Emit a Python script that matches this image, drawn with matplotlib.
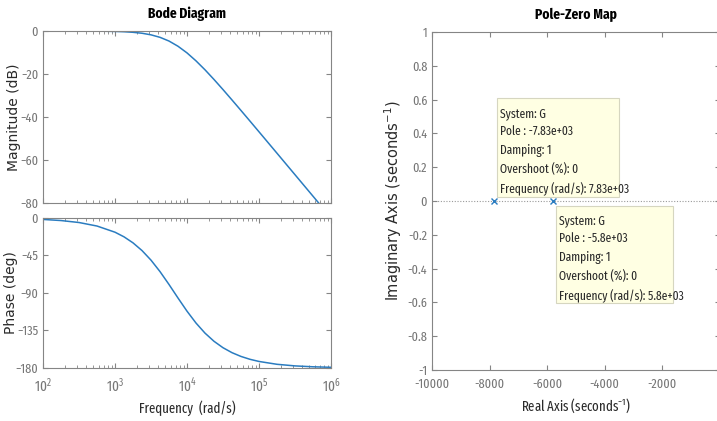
import matplotlib
matplotlib.use("Agg")
import matplotlib.pyplot as plt
from matplotlib.patches import Rectangle
from matplotlib.ticker import LogLocator, NullFormatter

# Bode samples (log10 of frequency in rad/s)
LOG_W = [2.0, 2.25, 2.5, 2.75, 3.0, 3.125, 3.25, 3.375, 3.5, 3.625, 3.75, 3.875,
         4.0, 4.125, 4.25, 4.375, 4.5, 4.625, 4.75, 4.875, 5.0, 5.25, 5.5, 5.75, 6.0]
MAG_DB = [-0.002, -0.006, -0.02, -0.063, -0.2, -0.35, -0.61, -1.05, -1.79, -2.95,
          -4.68, -7.1, -10.19, -13.9, -18.06, -22.56, -27.26, -32.09, -36.99,
          -41.93, -46.9, -56.87, -66.86, -76.86, -86.86]
PHASE_DEG = [-1.72, -3.06, -5.43, -9.65, -17.06, -22.61, -29.84, -39.09, -50.6,
             -64.33, -79.8, -96.04, -111.83, -126.08, -138.18, -147.98, -155.7,
             -161.65, -166.18, -169.62, -172.2, -175.61, -177.53, -178.61, -179.22]

# poles of G
POLE_RE = [-7830, -5800]
POLE_IM = [0, 0]
TIPS = [
    "System: G\nPole : -7.83e+03\nDamping: 1\nOvershoot (%): 0\nFrequency (rad/s): 7.83e+03",
    "System: G\nPole : -5.8e+03\nDamping: 1\nOvershoot (%): 0\nFrequency (rad/s): 5.8e+03",
]

NARROW = ["Fira Sans Extra Condensed", "Roboto Condensed", "Liberation Sans",
          "DejaVu Sans"]
WIDE = ["DejaVu Sans"]
LINE = "#2a7cc0"
GRAY = "#858585"
TXT = "#777777"
LAB = "#2a2a2a"

plt.rcParams["font.family"] = NARROW
plt.rcParams["mathtext.default"] = "regular"
plt.rcParams["font.size"] = 9

fig = plt.figure(figsize=(7.17, 4.21), dpi=100)
fig.patch.set_facecolor("white")


def style(ax):
    for s in ax.spines.values():
        s.set_color(GRAY)
        s.set_linewidth(0.8)
    ax.tick_params(which="both", direction="in", top=True, right=True,
                   colors=GRAY, labelcolor=TXT, labelsize=9.5)
    ax.tick_params(which="major", length=3.5)
    ax.tick_params(which="minor", length=2)


freq = [10 ** v for v in LOG_W]

ax_m = fig.add_axes([0.060, 0.518, 0.4016, 0.4084])
ax_p = fig.add_axes([0.060, 0.126, 0.4016, 0.3562])
for ax in (ax_m, ax_p):
    ax.set_xscale("log")
    ax.set_xlim(1e2, 1e6)
    ax.xaxis.set_major_locator(LogLocator(base=10, numticks=10))
    ax.xaxis.set_minor_locator(LogLocator(base=10, subs=range(2, 10), numticks=50))
    ax.xaxis.set_minor_formatter(NullFormatter())
    style(ax)

ax_m.plot(freq, MAG_DB, color=LINE, lw=1.1)
ax_m.set_ylim(-80, 0)
ax_m.set_yticks([-80, -60, -40, -20, 0])
ax_m.set_xticklabels([])
ax_m.set_ylabel("Magnitude (dB)", family=WIDE, fontsize=10, color=LAB)
ax_m.yaxis.set_label_coords(-0.075, 0.5)
ax_m.set_title("Bode Diagram", fontweight="bold", fontsize=10.5, pad=9)

ax_p.plot(freq, PHASE_DEG, color=LINE, lw=1.1)
ax_p.set_ylim(-180, 0)
ax_p.set_yticks([-180, -135, -90, -45, 0])
ax_p.set_ylabel("Phase (deg)", family=WIDE, fontsize=10, color=LAB)
ax_p.yaxis.set_label_coords(-0.087, 0.5)
ax_p.set_xlabel("Frequency  (rad/s)", fontsize=10, color=LAB, labelpad=4)
ax_p.tick_params(axis="x", pad=6, labelsize=10.5)

# pole-zero map
ax_z = fig.add_axes([0.6025, 0.121, 0.4015, 0.803])
style(ax_z)
ax_z.spines["right"].set_visible(False)
ax_z.axhline(0, color="#9a9a9a", lw=0.8, ls=(0, (1, 1.5)), zorder=1)
ax_z.plot(POLE_RE, POLE_IM, ls="none", marker="x", ms=5, mew=1, color=LINE, zorder=6)
ax_z.set_xlim(-10000, 0)
ax_z.set_ylim(-1, 1)
ax_z.set_xticks([-10000, -8000, -6000, -4000, -2000, 0])
ax_z.set_xticklabels(["-10000", "-8000", "-6000", "-4000", "-2000", ""])
ax_z.set_yticks([-1, -0.8, -0.6, -0.4, -0.2, 0, 0.2, 0.4, 0.6, 0.8, 1])
ax_z.set_yticklabels(["-1", "-0.8", "-0.6", "-0.4", "-0.2", "0", "0.2", "0.4",
                      "0.6", "0.8", "1"])
ax_z.tick_params(axis="x", pad=6)
ax_z.set_title("Pole-Zero Map", fontweight="bold", fontsize=10.5, pad=9)
ax_z.set_xlabel("Real Axis (seconds$^{-1}$)", fontsize=10, color=LAB, labelpad=4)
ax_z.set_ylabel("Imaginary Axis (seconds$^{-1}$)", family=WIDE, fontsize=10.5, color=LAB)
ax_z.yaxis.set_label_coords(-0.097, 0.5)

# data tips: (box x0, box y0, width, height, text x, text top)
tip_boxes = [(-7743, 0.024, 4236, 0.585, -7640, 0.555),
             (-5694, -0.604, 4062, 0.574, -5590, -0.078)]
for (bx, by, bw, bh, tx, ty), t in zip(tip_boxes, TIPS):
    ax_z.add_patch(Rectangle((bx, by), bw, bh, fc="#ffffe3", ec="#d6d6c0",
                             lw=0.8, zorder=4))
    ax_z.text(tx, ty, t, ha="left", va="top", fontsize=9, color=LAB,
              linespacing=1.6, zorder=5)

fig.savefig("out.png", dpi=100, facecolor="white")
